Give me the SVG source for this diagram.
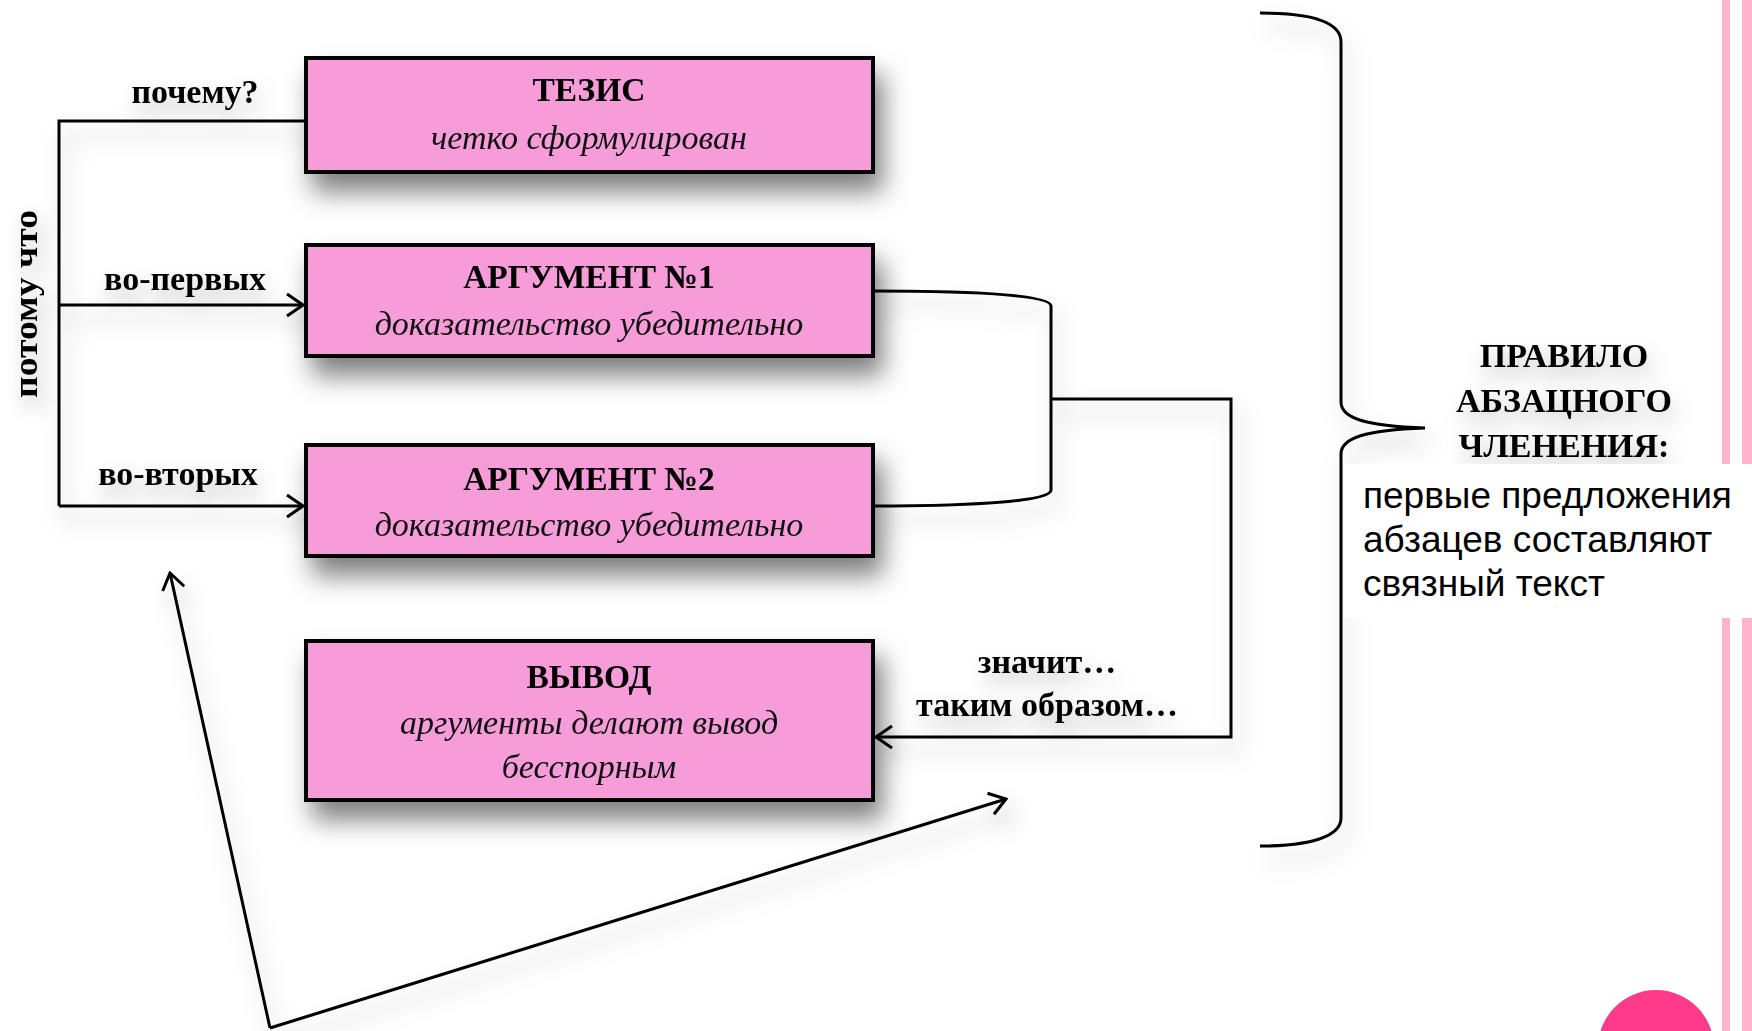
<svg xmlns="http://www.w3.org/2000/svg" width="1752" height="1031" viewBox="0 0 1752 1031">
<style>
.box{fill:#F69CD8;stroke:#000;stroke-width:4}
.title{font-family:"Liberation Serif",serif;font-weight:bold;font-size:33.5px;text-anchor:middle;fill:#000}
.ital{font-family:"Liberation Serif",serif;font-style:italic;font-size:34px;text-anchor:middle;fill:#111}
.lbl{font-family:"Liberation Serif",serif;font-weight:bold;font-size:34px;fill:#000}
.rule{font-family:"Liberation Serif",serif;font-weight:bold;font-size:34px;text-anchor:middle;fill:#000}
.sans{font-family:"Liberation Sans",Arial,sans-serif;font-size:37px;fill:#000}
.ln{fill:none;stroke:#000;stroke-width:3}
</style>
<defs>
<filter id="sh" x="-10%" y="-30%" width="130%" height="190%">
<feDropShadow dx="8" dy="18" stdDeviation="13" flood-color="#000" flood-opacity="0.5"/>
</filter>
<filter id="lsh" x="-10%" y="-10%" width="130%" height="130%">
<feDropShadow dx="6" dy="14" stdDeviation="11" flood-color="#000" flood-opacity="0.25"/>
</filter>
<filter id="tsh" x="-20%" y="-30%" width="140%" height="160%">
<feDropShadow dx="4" dy="10" stdDeviation="10" flood-color="#000" flood-opacity="0.25"/>
</filter>
<marker id="ah" viewBox="-20 -15 22 30" refX="0" refY="0" markerWidth="22" markerHeight="30" markerUnits="userSpaceOnUse" orient="auto">
<path d="M-16,-11 L0,0 L-16,11" fill="none" stroke="#000" stroke-width="3"/>
</marker>
</defs>
<rect width="1752" height="1031" fill="#fff"/>

<g id="connectors" filter="url(#lsh)">
<path class="ln" d="M306,121 L59,121 L59,506"/>
<path class="ln" d="M59,305 L303,305" marker-end="url(#ah)"/>
<path class="ln" d="M59,506 L303,506" marker-end="url(#ah)"/>
<path class="ln" d="M873,291 C990,291 1051,296 1051,306 L1051,490 C1051,500 990,506 873,506"/>
<path class="ln" d="M1051,399 L1231,399 L1231,737 L876,737" marker-end="url(#ah)"/>
<path class="ln" d="M270,1028 L170,573" stroke-width="2.5" marker-end="url(#ah)"/>
<path class="ln" d="M270,1028 L1006,799" marker-end="url(#ah)"/>
<path class="ln" d="M1260,13 C1312,13 1341,22 1341,42 L1341,402 C1341,418 1365,426 1425,428 C1365,430 1341,438 1341,454 L1341,818 C1341,836 1312,846 1260,846" stroke-width="3.5"/>
</g>

<g id="labels" filter="url(#tsh)">
<text class="lbl" x="195" y="103" text-anchor="middle">почему?</text>
<text class="lbl" x="185" y="290" text-anchor="middle">во-первых</text>
<text class="lbl" x="178" y="485" text-anchor="middle">во-вторых</text>
<text class="lbl" font-size="38" textLength="188" lengthAdjust="spacingAndGlyphs" transform="translate(37,398) rotate(-90)">потому что</text>
<text class="lbl" x="1047" y="673" text-anchor="middle">значит…</text>
<text class="lbl" x="1047" y="716" text-anchor="middle">таким образом…</text>
</g>

<g id="tezis">
<rect class="box" x="306" y="58" width="567" height="114" filter="url(#sh)"/>
<text class="title" x="589" y="101">ТЕЗИС</text>
<text class="ital" x="589" y="149">четко сформулирован</text>
</g>

<g id="arg1">
<rect class="box" x="306" y="245" width="567" height="111" filter="url(#sh)"/>
<text class="title" x="589" y="288">АРГУМЕНТ №1</text>
<text class="ital" x="589" y="335">доказательство убедительно</text>
</g>

<g id="arg2">
<rect class="box" x="306" y="445" width="567" height="111" filter="url(#sh)"/>
<text class="title" x="589" y="490">АРГУМЕНТ №2</text>
<text class="ital" x="589" y="536">доказательство убедительно</text>
</g>

<g id="vyvod">
<rect class="box" x="306" y="641" width="567" height="159" filter="url(#sh)"/>
<text class="title" x="589" y="688">ВЫВОД</text>
<text class="ital" x="589" y="734">аргументы делают вывод</text>
<text class="ital" x="589" y="778">бесспорным</text>
</g>

<g id="rule" filter="url(#tsh)">
<text class="rule" x="1564" y="367">ПРАВИЛО</text>
<text class="rule" x="1564" y="412">АБЗАЦНОГО</text>
<text class="rule" x="1564" y="457">ЧЛЕНЕНИЯ:</text>
</g>

<g id="decor">
<rect x="1722" y="0" width="8" height="1031" fill="#FFB3CC"/>
<rect x="1742" y="0" width="10" height="1031" fill="#FFB3CC"/>
<circle cx="1656" cy="1048" r="58" fill="#FF3A8A"/>
</g>

<g id="note">
<rect x="1344" y="464" width="408" height="154" fill="#fff"/>
<text class="sans" x="1363" y="508">первые предложения</text>
<text class="sans" x="1363" y="552">абзацев составляют</text>
<text class="sans" x="1363" y="596">связный текст</text>
</g>
</svg>
